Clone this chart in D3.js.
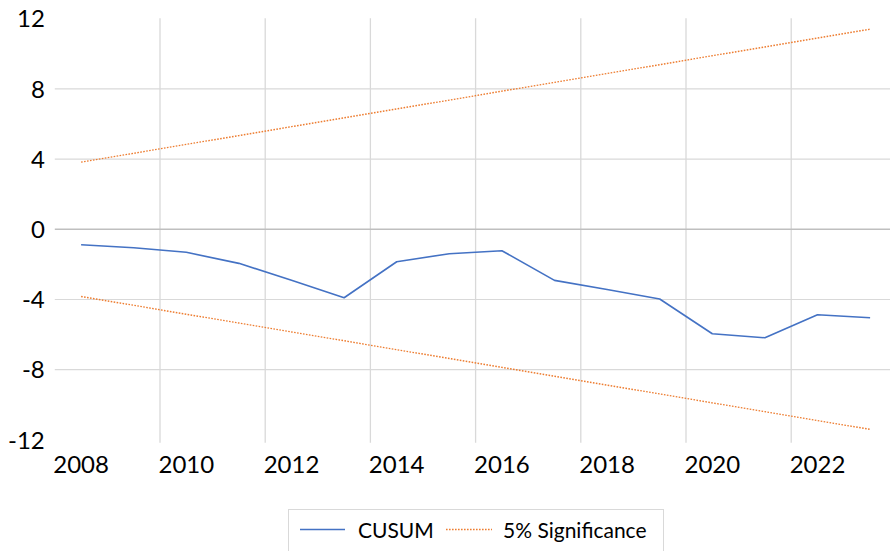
<!DOCTYPE html>
<html>
<head>
<meta charset="utf-8">
<script src="https://cdn.jsdelivr.net/npm/d3@7"></script>
<style>
  body { margin: 0; background: #fff; }
  svg { display: block; font-family: Lato, "Open Sans", sans-serif; }
</style>
</head>
<body>
<script>
// chart data
var years = [2008, 2009, 2010, 2011, 2012, 2013, 2014, 2015,
             2016, 2017, 2018, 2019, 2020, 2021, 2022, 2023];
var cusum = [-0.88, -1.05, -1.31, -1.94, -2.90, -3.90, -1.85, -1.39,
             -1.22, -2.91, -3.43, -3.97, -5.95, -6.18, -4.87, -5.04];
var upper = [3.83, 4.33, 4.84, 5.34, 5.85, 6.35, 6.86, 7.36,
             7.87, 8.37, 8.88, 9.38, 9.89, 10.39, 10.90, 11.40];
var lower = [-3.83, -4.33, -4.84, -5.34, -5.85, -6.35, -6.86, -7.36,
             -7.87, -8.37, -8.88, -9.38, -9.89, -10.39, -10.90, -11.40];
var yTicks = [-12, -8, -4, 0, 4, 8, 12];
var xLabels = [2008, 2010, 2012, 2014, 2016, 2018, 2020, 2022];
var seriesNames = ["CUSUM", "5% Significance"];

var W = 890, H = 551;
// plot area (right edge runs a bit past the window, like the original)
var plot = {left: 54.8, right: 896.4, top: 18.7, bottom: 439.9};

var svg = d3.select("body").append("svg")
    .attr("width", W)
    .attr("height", H);

// scales
var x = d3.scaleBand().domain(years).range([plot.left, plot.right]).padding(0);
var y = d3.scaleLinear().domain([-12, 12]).range([plot.bottom, plot.top]);
var cx = function(d, i) { return x(years[i]) + x.bandwidth() / 2; };

// horizontal gridlines
svg.append("g")
  .selectAll("line")
  .data(yTicks.filter(function(d) { return d != 0 && Math.abs(d) < 12; }))
  .enter().append("line")
    .attr("x1", plot.left).attr("x2", plot.right)
    .attr("y1", function(d) { return y(d); })
    .attr("y2", function(d) { return y(d); })
    .attr("stroke", "#d9d9d9")
    .attr("stroke-width", 1.2);

// vertical gridlines, between categories every 2 years
svg.append("g")
  .selectAll("line")
  .data(xLabels.slice(1))
  .enter().append("line")
    .attr("x1", function(d) { return x(d); })
    .attr("x2", function(d) { return x(d); })
    .attr("y1", plot.top - 0.4)
    .attr("y2", plot.bottom + 2.8)
    .attr("stroke", "#d9d9d9")
    .attr("stroke-width", 1.3);

// zero line
svg.append("line")
    .attr("x1", plot.left).attr("x2", plot.right)
    .attr("y1", y(0)).attr("y2", y(0))
    .attr("stroke", "#bfbfbf")
    .attr("stroke-width", 1.6);

// Y axis labels (plain hyphen for negatives, as in the original)
var yAxis = svg.append("g")
    .attr("transform", "translate(" + plot.left + ",0)")
    .call(d3.axisLeft(y).tickValues(yTicks).tickSize(0).tickPadding(10)
      .tickFormat(function(d) { return String(d); }));
yAxis.select(".domain").remove();
yAxis.selectAll("text")
    .attr("font-family", "Lato, 'Open Sans', sans-serif")
    .attr("font-size", 24)
    .attr("fill", "#000")
    .attr("dy", "0.34em");

// X axis labels
var xAxis = svg.append("g")
    .attr("transform", "translate(0," + plot.bottom + ")")
    .call(d3.axisBottom(x).tickValues(xLabels).tickSize(0).tickPadding(16));
xAxis.select(".domain").remove();
xAxis.selectAll("text")
    .attr("font-family", "Lato, 'Open Sans', sans-serif")
    .attr("font-size", 24)
    .attr("fill", "#000");

// lines
var line = d3.line()
    .x(function(d, i) { return cx(d, i); })
    .y(function(d) { return y(d); });

[upper, lower].forEach(function(s) {
  svg.append("path")
      .datum(s)
      .attr("fill", "none")
      .attr("stroke", "#ed7d31")
      .attr("stroke-width", 1.4)
      .attr("stroke-dasharray", "1.6,1.4")
      .attr("d", line);
});

svg.append("path")
    .datum(cusum)
    .attr("fill", "none")
    .attr("stroke", "#4472c4")
    .attr("stroke-width", 1.6)
    .attr("stroke-linejoin", "round")
    .attr("d", line);

// legend
var legend = svg.append("g");
legend.append("rect")
    .attr("x", 288.5).attr("y", 509.5)
    .attr("width", 375).attr("height", 60)
    .attr("fill", "#fff")
    .attr("stroke", "#d9d9d9");

legend.append("line")
    .attr("x1", 300).attr("x2", 345)
    .attr("y1", 529.5).attr("y2", 529.5)
    .attr("stroke", "#4472c4").attr("stroke-width", 1.6);
legend.append("text")
    .attr("x", 358).attr("y", 537.5)
    .attr("font-size", 21)
    .text(seriesNames[0]);

legend.append("line")
    .attr("x1", 446).attr("x2", 492)
    .attr("y1", 529.5).attr("y2", 529.5)
    .attr("stroke", "#ed7d31").attr("stroke-width", 1.4)
    .attr("stroke-dasharray", "1.6,1.4");
legend.append("text")
    .attr("x", 503).attr("y", 537.5)
    .attr("font-size", 21)
    .text(seriesNames[1]);
</script>
</body>
</html>
